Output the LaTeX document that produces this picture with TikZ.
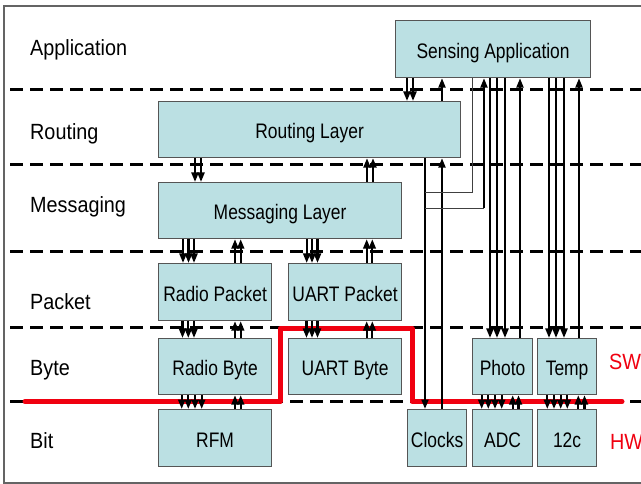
\documentclass[tikz,border=0pt]{standalone}
\usepackage{fontspec}
\setmainfont{Liberation Sans}
\newfontfamily\lbfam{Liberation Sans}[FakeStretch=0.9]
\newfontfamily\bxfam{Liberation Sans}[FakeStretch=0.83]
\usetikzlibrary{arrows.meta}
\definecolor{boxfill}{RGB}{187,224,227}
\definecolor{boxline}{RGB}{85,85,85}
\definecolor{swred}{RGB}{240,0,16}
\definecolor{framegray}{RGB}{100,100,100}
\tikzset{
  box/.style={draw=boxline, fill=boxfill, line width=1.2pt, inner sep=0pt,
    text height=18pt, text depth=0pt, anchor=north west,
    font=\bxfam\fontsize{21}{24}\selectfont},
  lbl/.style={anchor=base west, inner sep=0pt, font=\lbfam\fontsize{22}{26}\selectfont},
  arr/.style={line width=2.1pt, -{Triangle[width=7pt,length=9.5pt]}},
  thinl/.style={line width=0.9pt, draw=black!75},
  layerline/.style={line width=3pt, dash pattern=on 13pt off 7pt},
  swline/.style={line width=5pt, draw=swred, line cap=round, line join=round},
  framel/.style={line width=1.3pt, draw=framegray}
}
\newcommand\mybox[6]{\node[box, minimum width={#4-#2}, minimum height={#5-#3}] (#1) at (#2,#3) {#6};}
\begin{document}
\begin{tikzpicture}[x=1pt,y=-1pt]
\useasboundingbox (0,0) rectangle (641,484);
\fill[white] (0,0) rectangle (641,484);
% frame
\draw[framel] (660,6) -- (4,6) -- (4,483) -- (660,483);
% layer separators
\foreach \yy in {90,165,252,328,401} {\draw[layerline] (10,\yy) -- (645,\yy);}
% SW / HW border
\draw[swline] (25,401.5) -- (280,401.5) -- (280,328.5) -- (412,328.5) -- (412,401.5) -- (622,401.5);
% boxes
\mybox{sens}{395}{20}{590}{77}{Sensing Application}
\mybox{rout}{158}{101}{460}{157}{Routing Layer}
\mybox{msg}{158}{182}{401}{238}{Messaging Layer}
\mybox{rpk}{158}{263}{271}{320}{Radio Packet}
\mybox{upk}{288}{263}{401}{320}{UART Packet}
\mybox{rby}{158}{338}{271}{394}{Radio Byte}
\mybox{uby}{288}{338}{401}{394}{UART Byte}
\mybox{rfm}{158}{409}{271}{466}{RFM}
\mybox{clk}{407}{409}{466}{466}{Clocks}
\mybox{adc}{472}{409}{532}{466}{ADC}
\mybox{ic}{537}{409}{596}{466}{12c}
\mybox{pho}{472}{338}{532}{394}{Photo}
\mybox{tmp}{537}{338}{596}{394}{Temp}
% arrows down
\foreach \xx in {407,413} {\draw[arr] (sens.south -| \xx,0) -- (rout.north -| \xx,0);}
\foreach \xx in {195,201} {\draw[arr] (rout.south -| \xx,0) -- (msg.north -| \xx,0);}
\foreach \xx in {183,188.5,194} {\draw[arr] (msg.south -| \xx,0) -- (rpk.north -| \xx,0);}
\foreach \xx in {306.7,312,317.5} {\draw[arr] (msg.south -| \xx,0) -- (upk.north -| \xx,0);}
\foreach \xx in {182.5,188.3,194} {\draw[arr] (rpk.south -| \xx,0) -- (rby.north -| \xx,0);}
\foreach \xx in {306.5,312,317.5} {\draw[arr] (upk.south -| \xx,0) -- (uby.north -| \xx,0);}
\foreach \xx in {181.7,188.3,195,201.7} {\draw[arr] (rby.south -| \xx,0) -- (rfm.north -| \xx,0);}
\foreach \xx in {490,497,505} {\draw[arr] (sens.south -| \xx,0) -- (pho.north -| \xx,0);}
\foreach \xx in {549,556,564} {\draw[arr] (sens.south -| \xx,0) -- (tmp.north -| \xx,0);}
\foreach \xx in {481.7,488.3,495,501.7} {\draw[arr] (pho.south -| \xx,0) -- (adc.north -| \xx,0);}
\foreach \xx in {547.3,554,560.7,567.3} {\draw[arr] (tmp.south -| \xx,0) -- (ic.north -| \xx,0);}
\draw[arr] (rout.south -| 425,0) -- (clk.north -| 425,0);
% arrows up
\draw[arr] (rout.north -| 442,0) -- (sens.south -| 442,0);
\foreach \xx in {367,373} {\draw[arr] (msg.north -| \xx,0) -- (rout.south -| \xx,0);}
\foreach \xx in {235,240.7} {\draw[arr] (rpk.north -| \xx,0) -- (msg.south -| \xx,0);}
\foreach \xx in {366.7,372.3} {\draw[arr] (upk.north -| \xx,0) -- (msg.south -| \xx,0);}
\foreach \xx in {235,240.7} {\draw[arr] (rby.north -| \xx,0) -- (rpk.south -| \xx,0);}
\foreach \xx in {366.7,372.3} {\draw[arr] (uby.north -| \xx,0) -- (upk.south -| \xx,0);}
\foreach \xx in {235,240.7} {\draw[arr] (rfm.north -| \xx,0) -- (rby.south -| \xx,0);}
\draw[arr] (clk.north -| 442,0) -- (rout.south -| 442,0);
\draw[arr] (pho.north -| 520,0) -- (sens.south -| 520,0);
\draw[arr] (tmp.north -| 579,0) -- (sens.south -| 579,0);
\foreach \xx in {512.7,518.5} {\draw[arr] (adc.north -| \xx,0) -- (pho.south -| \xx,0);}
\foreach \xx in {578.3,584.5} {\draw[arr] (ic.north -| \xx,0) -- (tmp.south -| \xx,0);}
% sensing <-> clocks links
\coordinate (j1) at (472,192);
\coordinate (j2) at (425,192);
\coordinate (j3) at (425,208);
\coordinate (j4) at (484,208);
\draw[thinl] (sens.south -| j1) -- (j1) -- (j2);
\draw[thinl] (j3) -- (j4);
\draw[arr] ([yshift=0.45pt]j4) -- (sens.south -| j4);
% layer labels
\node[lbl] (lapp) at (30,56) {Application};
\node[lbl] (lrout) at (30,140) {Routing};
\node[lbl] (lmsg) at (30,213) {Messaging};
\node[lbl] (lpk) at (30,309) {Packet};
\node[lbl] (lby) at (30,375) {Byte};
\node[lbl] (lbit) at (30,448) {Bit};
\node[lbl, text=swred] (sw) at (609,370) {SW};
\node[lbl, text=swred] (hw) at (610,449) {HW};
\end{tikzpicture}
\end{document}
